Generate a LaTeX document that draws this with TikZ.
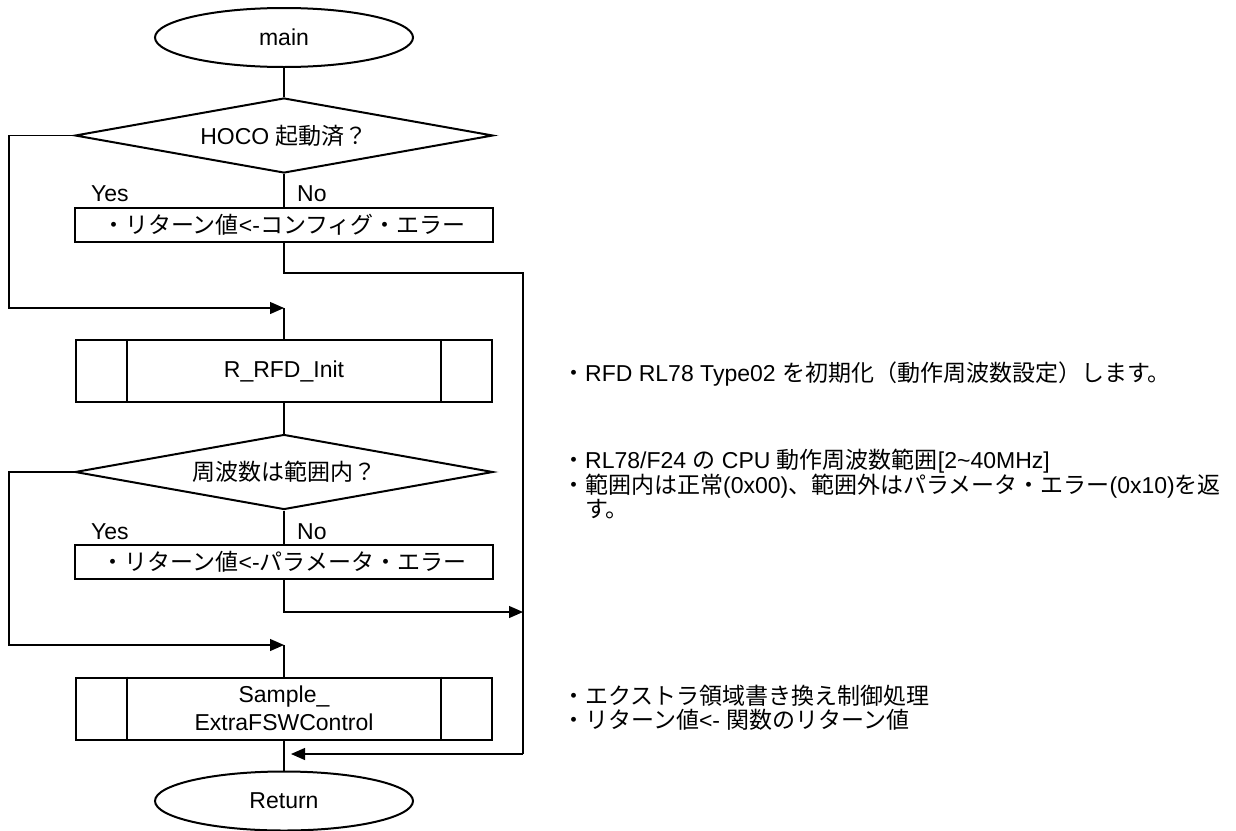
\documentclass[tikz,border=0pt]{standalone}
\usepackage{fontspec}
\setmainfont{Liberation Sans}
\newfontfamily\jafont{Noto Sans CJK JP}
\newcommand{\ja}[1]{{\jafont #1}}
\usetikzlibrary{shapes.geometric,arrows.meta}
\tikzstyle{every node}=[font=\fontsize{23}{28}\selectfont, inner sep=0pt]
\tikzstyle{term}=[ellipse, draw, line width=2pt, minimum width=258pt, minimum height=59pt]
\tikzstyle{dec}=[diamond, draw, line width=2pt, aspect=4, minimum width=418pt, minimum height=75pt]
\tikzstyle{proc}=[rectangle, draw, line width=2pt, minimum width=418pt, minimum height=34pt]
\tikzstyle{subr}=[proc, minimum width=416pt, minimum height=62pt, align=center]
\tikzstyle{flow}=[line width=1.2pt]
\tikzstyle{arr}=[flow, -{Triangle[length=14pt,width=12pt]}]
\tikzstyle{note}=[anchor=west, align=left, font=\fontsize{23}{24}\selectfont]

\begin{document}
\begin{tikzpicture}[x=1pt,y=-1pt]
\useasboundingbox (0,0) rectangle (1236,830);
\node[term] (main) at (284,37.5) {main};
\node[dec] (hoco) at (284,135.5) {HOCO \ja{起動済？}};
\node[proc] (cfgerr) at (284,225) {\ja{・リターン値}<-\ja{コンフィグ・エラー}};
\node[subr] (init) at (284,371) {R\_RFD\_Init};
\node[dec] (freq) at (284,472) {\ja{周波数は範囲内？}};
\node[proc] (parerr) at (284,562) {\ja{・リターン値}<-\ja{パラメータ・エラー}};
\node[subr] (extra) at (284,708.5) {Sample\_\\ExtraFSWControl};
\node[term] (ret) at (284,801) {Return};
\foreach \n in {init,extra} {
  \draw[line width=2pt] ([xshift=52pt]\n.north west) -- ([xshift=52pt]\n.south west);
  \draw[line width=2pt] ([xshift=-52pt]\n.north east) -- ([xshift=-52pt]\n.south east);
}
\node[anchor=west] (yes1) at (91,194) {Yes};
\node[anchor=west] (no1) at (297,194) {No};
\node[anchor=west] (yes2) at (91,532) {Yes};
\node[anchor=west] (no2) at (297,532) {No};

\coordinate (j1) at (284,308);
\coordinate (j2) at (284,645);
\coordinate (j3) at (284,754);
\coordinate (rtop) at (523,273);
\coordinate (rmid) at (523,612);
\coordinate (rbot) at (523,754);

\draw[flow] (main) -- (hoco);
\draw[flow] (hoco) -- (cfgerr);
\draw[arr] (hoco.west) -- ++(-65,0) |- (j1);
\draw[flow] (j1) -- (init);
\draw[flow] (cfgerr) |- (rtop) -- (rbot);
\draw[arr, shorten >=7pt] (rbot) -- (j3);
\draw[flow] (init) -- (freq);
\draw[flow] (freq) -- (parerr);
\draw[arr] (freq.west) -- ++(-65,0) |- (j2);
\draw[arr] (parerr) |- (rmid);
\draw[flow] (j2) -- (extra);
\draw[flow] (extra) -- (ret);

\node[note] (n1) at (562,374) {\ja{・}RFD RL78 Type02 \ja{を初期化（動作周波数設定）します。}};
\node[note] (n2) at (562,484) {\ja{・}RL78/F24 \ja{の} CPU \ja{動作周波数範囲}[2\textasciitilde40MHz]\\
  \ja{・範囲内は正常}(0x00)\ja{、範囲外はパラメータ・エラー}(0x10)\ja{を返}\\
  \ja{　す。}};
\node[note] (n3) at (562,708) {\ja{・エクストラ領域書き換え制御処理}\\
  \ja{・リターン値}<- \ja{関数のリターン値}};
\end{tikzpicture}
\end{document}
